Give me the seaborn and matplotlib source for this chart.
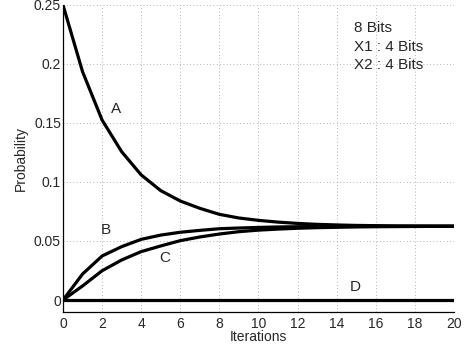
import matplotlib
matplotlib.use("Agg")
import matplotlib.pyplot as plt
import seaborn as sns
import pandas as pd
import numpy as np

iterations = list(range(21))
curve_a = [0.25, 0.1935, 0.1525, 0.1257, 0.106, 0.0927, 0.0839, 0.0777, 0.0726, 0.0695,
           0.0675, 0.066, 0.0649, 0.0641, 0.0636, 0.0632, 0.063, 0.0628, 0.0627, 0.0626, 0.0626]
curve_b = [0.0, 0.022, 0.0373, 0.0452, 0.0514, 0.055, 0.0574, 0.059, 0.0604, 0.061,
           0.0615, 0.0619, 0.0621, 0.0623, 0.0624, 0.0624, 0.0625, 0.0625, 0.0625, 0.0625, 0.0625]
curve_c = [0.0, 0.0119, 0.0248, 0.0339, 0.041, 0.0458, 0.0503, 0.0534, 0.0559, 0.0579,
           0.0592, 0.0601, 0.0608, 0.0613, 0.0616, 0.0619, 0.0621, 0.0622, 0.0623, 0.0624, 0.0624]
curve_d = [0.0] * 21
labels = ["A", "B", "C", "D"]
label_x = [2.45, 1.95, 4.95, 14.65]
label_y = [0.162, 0.059, 0.036, 0.011]
notes = ["8 Bits", "X1 : 4 Bits", "X2 : 4 Bits"]
xticks = list(range(0, 21, 2))
yticks = [0, 0.05, 0.1, 0.15, 0.2, 0.25]
ytick_labels = ["0", "0.05", "0.1", "0.15", "0.2", "0.25"]

sns.set_style("white")
plt.rcParams['font.family'] = ['Liberation Sans', 'DejaVu Sans']

df = pd.concat([
    pd.DataFrame({"Iterations": iterations, "Probability": vals, "curve": name})
    for name, vals in zip(labels, [curve_a, curve_b, curve_c, curve_d])
])

fig = plt.figure(figsize=(4.65, 3.51), dpi=100)
ax = fig.add_axes([0.1355, 0.111, 0.976 - 0.1355, 0.9858 - 0.111])
sns.lineplot(data=df, x="Iterations", y="Probability", hue="curve",
             palette=["black"] * 4, linewidth=2.3, legend=False, ax=ax)

ax.set_xlim(0, 20)
ax.set_ylim(-0.0102, 0.25)
ax.set_xticks(xticks)
ax.set_xticklabels([str(t) for t in xticks], fontsize=10)
ax.set_yticks(yticks)
ax.set_yticklabels(ytick_labels, fontsize=10)
ax.tick_params(direction="in", length=3, width=0.8, color="black")
ax.tick_params(axis="y", pad=1.5)
ax.tick_params(axis="x", pad=3.5)
ax.grid(True, linestyle=(0, (1, 3)), color="#999999", linewidth=0.6)
ax.set_axisbelow(True)
for s in ["top", "right"]:
    ax.spines[s].set_visible(False)
for s in ["left", "bottom"]:
    ax.spines[s].set_color("black")
    ax.spines[s].set_linewidth(0.9)

ax.set_xlabel("Iterations", fontsize=10, labelpad=-1)
ax.set_ylabel("Probability", fontsize=10, labelpad=4)

for lab, lx, ly in zip(labels, label_x, label_y):
    ax.text(lx, ly, lab, fontsize=11, ha="left", va="center")

note_y = [0.2305, 0.2147, 0.199]
for t, ny in zip(notes, note_y):
    ax.text(14.9, ny, t, fontsize=11, ha="left", va="center")

fig.savefig("out.png", dpi=100)
